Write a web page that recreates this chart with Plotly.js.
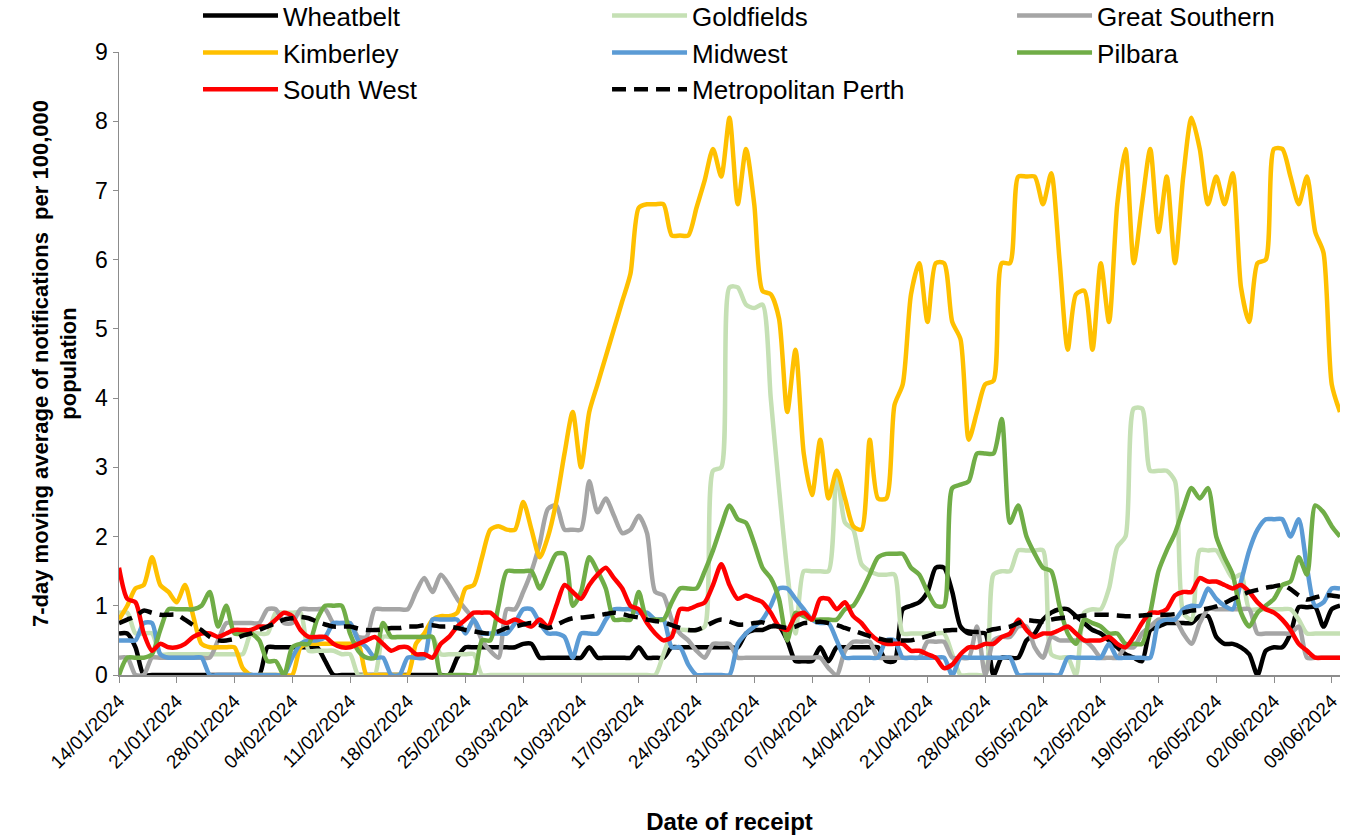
<!DOCTYPE html>
<html>
<head>
<meta charset="utf-8">
<script src="https://cdn.plot.ly/plotly-3.0.1.min.js"></script>
<style>
html,body{margin:0;padding:0;background:#fff;}
#chart{width:1354px;height:835px;}
</style>
</head>
<body>
<div id="chart"></div>
<script>
// Daily values, 14/01/2024 to 10/06/2024 (149 days)
const startDate = '2024-01-14';
const tickLabelFormat = '%d/%m/%Y';

const seriesNames = ['Wheatbelt','Goldfields','Great Southern','Kimberley','Midwest','Pilbara','South West','Metropolitan Perth'];

const wheatbelt = [
0.6,0.6,0.4,0,0,0,0,0,0,0,
0,0,0,0,0,0,0,0,0.4,0.4,
0.4,0.4,0.4,0.4,0.4,0.2,0,0,0,0,
0,0,0,0,0,0,0,0,0,0,
0,0.25,0.4,0.4,0.4,0.4,0.4,0.4,0.4,0.45,
0.45,0.25,0.25,0.25,0.25,0.25,0.25,0.4,0.25,0.25,
0.25,0.25,0.25,0.4,0.25,0.25,0.25,0.4,0.4,0.4,
0.4,0.4,0.4,0.4,0.4,0.4,0.6,0.65,0.65,0.7,
0.7,0.5,0.2,0.2,0.2,0.4,0.2,0.4,0.4,0.4,
0.4,0.4,0.4,0.2,0.2,0.95,1.0,1.05,1.2,1.55,
1.55,1.2,0.7,0.6,0.6,0.6,0,0.25,0.25,0.25,
0.5,0.6,0.8,0.9,0.95,0.95,0.85,0.75,0.65,0.6,
0.5,0.4,0.3,0.25,0.2,0.65,0.7,0.75,0.75,0.75,
0.75,0.85,0.85,0.55,0.45,0.45,0.4,0.3,0,0.35,
0.4,0.4,0.6,0.98,0.98,0.98,0.7,0.95,1.0];

const goldfields = [
0.9,0.9,0.6,0.6,0.6,0.3,0.3,0.3,0.3,0.3,
0.3,0.3,0.3,0.3,0.3,0.3,0.6,0.6,0.6,0.9,
0.9,0.9,0.9,0.35,0.35,0.35,0.35,0.3,0.3,0,
0,0,0.55,0.55,0.55,0.55,0.55,0.55,0.55,0.3,
0.3,0.3,0.3,0.3,0,0,0,0,0,0,
0,0,0,0,0,0,0,0,0,0,
0,0,0,0,0,0,0.3,0.6,0.65,0.65,
0.65,0.7,2.95,3.0,5.6,5.6,5.35,5.3,5.35,4.0,
2.7,1.5,0.6,1.5,1.5,1.5,1.5,2.95,2.2,2.1,
1.6,1.5,1.45,1.45,1.45,0.6,0.6,0.6,0.6,0.6,
0.6,0.3,0,0,0,0,1.45,1.5,1.5,1.8,
1.8,1.8,1.8,0.3,0.25,0.25,0,0.9,0.95,0.95,
1.25,1.85,2.0,3.85,3.85,2.95,2.95,2.95,2.8,0.9,
0.8,1.8,1.8,1.8,1.6,1.4,1.45,0.95,0.95,0.95,
0.95,0.95,0.95,0.8,0.6,0.6,0.6,0.6,0.6];

const greatSouthern = [
0.25,0.25,0,0,0.25,0.25,0.25,0.25,0.25,0.25,
0.25,0.25,0.5,0.75,0.75,0.75,0.75,0.75,0.95,0.95,
0.75,0.75,0.95,0.95,0.95,0.95,0.75,0.75,0.75,0.55,
0.55,0.95,0.95,0.95,0.95,0.95,1.2,1.4,1.2,1.45,
1.3,1.1,0.95,0.8,0.5,0.35,0.25,0.95,0.95,1.2,
1.5,1.9,2.4,2.45,2.1,2.1,2.1,2.8,2.35,2.55,
2.3,2.05,2.1,2.3,2.05,1.2,1.15,0.8,0.6,0.5,
0.35,0.25,0.45,0.45,0.45,0.25,0.25,0.25,0.25,0.25,
0.25,0.25,0.25,0.25,0.25,0.25,0.1,0,0.35,0.48,
0.48,0.48,0.25,0.25,0.25,0.25,0.25,0.25,0.48,0.48,
0.48,0.25,0.25,0.25,0.7,0,0.5,0.55,0.55,0.7,
0.7,0.4,0.25,0.55,0.5,0.5,0.5,0.5,0.4,0.25,
0.25,0.25,0.4,0.4,0.6,0.7,0.8,0.8,0.8,0.6,
0.45,0.75,0.95,0.95,0.95,0.95,0.95,0.95,0.6,0.6,
0.6,0.6,0.6,0.7,0.25,0.25,0.25,0.25,0.25];

const kimberley = [
0.8,1.0,1.25,1.3,1.7,1.3,1.2,1.05,1.3,0.85,
0.45,0.4,0.4,0.4,0.4,0.1,0,0,0,0,
0,0,0.4,0.45,0.45,0.45,0.45,0.45,0.45,0.45,
0,0,0,0,0,0,0.45,0.6,0.8,0.85,
0.85,0.9,1.25,1.3,1.7,2.1,2.15,2.1,2.1,2.5,
2.1,1.7,2.0,2.5,3.2,3.8,3.0,3.8,4.2,4.6,
5.0,5.4,5.8,6.75,6.8,6.8,6.8,6.35,6.35,6.35,
6.75,7.15,7.6,7.2,8.05,6.8,7.6,6.8,5.55,5.5,
5.15,3.8,4.7,3.2,2.6,3.4,2.55,2.95,2.55,2.15,
2.1,3.4,2.55,2.55,3.9,4.2,5.5,5.95,5.1,5.95,
5.95,5.1,4.85,3.4,3.8,4.2,4.25,5.95,5.95,7.2,
7.2,7.2,6.8,7.25,6.0,4.7,5.5,5.55,4.7,5.95,
5.1,6.8,7.6,5.95,6.8,7.6,6.4,7.2,5.95,7.2,
8.05,7.6,6.8,7.2,6.8,7.25,5.6,5.1,5.95,6.0,
7.6,7.6,7.2,6.8,7.2,6.4,6.1,4.2,3.8];

const midwest = [
0.5,0.5,0.5,0.75,0.75,0.3,0.25,0.25,0.25,0.25,
0.25,0,0,0,0,0,0,0,0,0,
0,0.25,0.45,0.5,0.5,0.55,0.75,0.75,0.75,0.5,
0.4,0.25,0.25,0,0,0.25,0.25,0.25,0.8,0.8,
0.8,0.8,0.6,0.8,0.6,0.6,0.6,0.6,0.75,0.95,
0.95,0.75,0.6,0.6,0.55,0.25,0.6,0.6,0.6,0.8,
0.95,0.95,0.95,0.9,0.9,0.8,0.8,0.4,0.4,0.15,
0,0,0,0,0,0.45,0.6,0.7,0.8,1.0,
1.25,1.25,1.1,0.95,0.8,0.75,0.75,0.5,0.25,0.25,
0.25,0.25,0.25,0.5,0.5,0.25,0.25,0.25,0.25,0.25,
0.25,0,0.25,0.25,0.25,0.25,0.25,0.25,0.25,0,
0,0,0,0,0,0.25,0.25,0.25,0.25,0.25,
0.45,0.25,0.25,0.25,0.25,0.25,0.75,0.8,0.8,0.95,
1.0,1.0,1.25,1.1,1.0,0.95,1.35,1.8,2.1,2.25,
2.25,2.25,2.0,2.25,1.55,1.0,1.05,1.25,1.25];

const pilbara = [
0,0.25,0.25,0.25,0.3,0.65,0.95,0.95,0.95,0.95,
1.0,1.2,0.7,1.0,0.6,0.6,0.6,0.5,0.2,0.2,
0,0.4,0.45,0.45,0.8,1.0,1.0,1.0,0.6,0.35,
0.25,0.25,0.75,0.55,0.55,0.55,0.55,0.55,0.55,0,
0,0,0,0,0.5,0.5,1.0,1.5,1.5,1.5,
1.5,1.25,1.5,1.75,1.75,1.0,1.2,1.7,1.5,1.25,
0.8,0.8,0.8,1.2,0.8,0.8,0.8,1.05,1.25,1.25,
1.25,1.5,1.8,2.15,2.45,2.25,2.2,1.9,1.55,1.4,
1.1,0.5,0.9,0.85,0.8,0.8,0.8,0.8,0.95,1.0,
1.2,1.45,1.7,1.75,1.75,1.75,1.55,1.45,1.2,1.0,
1.0,2.7,2.75,2.8,3.2,3.2,3.2,3.7,2.2,2.45,
2.0,1.75,1.55,1.5,1.0,0.6,0.45,0.8,0.75,0.7,
0.6,0.6,0.45,0.45,0.45,0.9,1.5,1.8,2.05,2.4,
2.7,2.55,2.7,2.0,1.7,1.45,0.9,0.7,0.9,1.0,
1.1,1.3,1.35,1.7,1.45,2.45,2.35,2.15,2.0];

const southWest = [
1.55,1.1,1.05,0.6,0.35,0.45,0.4,0.4,0.45,0.55,
0.6,0.6,0.55,0.6,0.65,0.65,0.65,0.7,0.7,0.8,
0.9,0.85,0.65,0.55,0.55,0.55,0.45,0.4,0.4,0.45,
0.5,0.55,0.45,0.35,0.4,0.4,0.3,0.3,0.25,0.45,
0.55,0.7,0.8,0.9,0.9,0.9,0.8,0.75,0.8,0.75,
0.7,0.8,0.7,1.0,1.3,1.2,1.1,1.3,1.45,1.55,
1.4,1.25,1.0,0.95,0.75,0.6,0.5,0.55,0.95,0.95,
1.0,1.05,1.3,1.6,1.3,1.1,1.15,1.1,1.05,0.9,
0.7,0.65,0.85,0.9,0.8,1.1,1.1,0.95,1.05,0.85,
0.75,0.6,0.5,0.45,0.45,0.45,0.35,0.35,0.3,0.25,
0.1,0.15,0.3,0.4,0.4,0.45,0.45,0.55,0.6,0.8,
0.65,0.55,0.6,0.6,0.65,0.7,0.6,0.5,0.5,0.5,
0.55,0.45,0.4,0.55,0.75,0.9,0.9,0.95,1.15,1.2,
1.2,1.4,1.35,1.35,1.3,1.25,1.3,1.2,1.05,0.95,
0.9,0.8,0.65,0.45,0.35,0.25,0.25,0.25,0.25];

const metroPerth = [
0.75,0.8,0.85,0.93,0.9,0.87,0.87,0.87,0.8,0.72,
0.65,0.55,0.5,0.5,0.52,0.57,0.6,0.65,0.7,0.75,
0.8,0.82,0.84,0.82,0.77,0.73,0.7,0.7,0.7,0.67,
0.65,0.65,0.66,0.68,0.68,0.7,0.7,0.72,0.72,0.7,
0.7,0.68,0.65,0.63,0.61,0.6,0.63,0.68,0.7,0.73,
0.75,0.72,0.68,0.72,0.78,0.82,0.83,0.84,0.86,0.88,
0.9,0.88,0.85,0.83,0.8,0.78,0.76,0.72,0.68,0.65,
0.65,0.7,0.76,0.8,0.77,0.73,0.73,0.75,0.76,0.72,
0.7,0.68,0.7,0.75,0.76,0.77,0.75,0.72,0.68,0.64,
0.6,0.56,0.53,0.5,0.5,0.5,0.5,0.53,0.56,0.6,
0.64,0.65,0.65,0.63,0.62,0.63,0.66,0.68,0.7,0.75,
0.79,0.78,0.77,0.8,0.82,0.83,0.84,0.86,0.87,0.87,
0.87,0.86,0.85,0.85,0.86,0.87,0.87,0.87,0.88,0.9,
0.93,0.94,0.96,0.99,1.04,1.1,1.15,1.2,1.23,1.26,
1.28,1.3,1.24,1.15,1.09,1.12,1.15,1.15,1.13];

// x values: consecutive days from startDate
function dayList(start, n) {
  const out = [];
  const t0 = Date.parse(start + 'T00:00:00Z');
  for (let i = 0; i < n; i++) {
    out.push(new Date(t0 + i * 86400000).toISOString().slice(0, 10));
  }
  return out;
}
const dates = dayList(startDate, kimberley.length);

const seriesValues = [wheatbelt, goldfields, greatSouthern, kimberley, midwest, pilbara, southWest, metroPerth];
const seriesColors = ['#000000','#c5e0b4','#a5a5a5','#ffc000','#5b9bd5','#70ad47','#ff0000','#000000'];
const seriesDash = ['solid','solid','solid','solid','solid','solid','solid','14px,8px'];
// legend columns (3 across, filled row by row like the original)
const legendIds = ['legend','legend2','legend3'];

const traces = seriesNames.map((name, i) => ({
  type: 'scatter',
  mode: 'lines',
  name: name,
  x: dates,
  y: seriesValues[i],
  legend: legendIds[i % 3],
  line: {color: seriesColors[i], width: 4.5, dash: seriesDash[i], shape: 'spline', smoothing: 0.7},
  hoverinfo: 'skip'
}));

const font = 'Liberation Sans, Arial, sans-serif';

function legendAt(x) {
  return {
    orientation: 'v',
    x: x, xanchor: 'left',
    y: 1.096, yanchor: 'top',
    font: {family: font, size: 26, color: '#000000'},
    itemwidth: 75,
    bgcolor: 'rgba(0,0,0,0)',
    traceorder: 'normal'
  };
}

const layout = {
  width: 1354,
  height: 835,
  margin: {l: 119, r: 14, t: 52, b: 160, autoexpand: false},
  paper_bgcolor: '#ffffff',
  plot_bgcolor: '#ffffff',
  font: {family: font, color: '#000000'},
  showlegend: true,
  legend: legendAt(0.0647),
  legend2: legendAt(0.3997),
  legend3: legendAt(0.7314),
  xaxis: {
    type: 'date',
    range: ['2024-01-14', '2024-06-10'],
    tick0: startDate,
    dtick: 7 * 86400000,
    tickformat: tickLabelFormat,
    tickangle: -45,
    tickfont: {family: font, size: 19, color: '#000000'},
    ticks: 'outside',
    ticklen: 6,
    tickcolor: '#8c8c8c',
    showline: true,
    linecolor: '#8c8c8c',
    linewidth: 1.5,
    showgrid: false,
    zeroline: false,
    automargin: false,
    title: {text: 'Date of receipt', font: {family: font, size: 24, weight: 'bold', color: '#000000'}, standoff: 44}
  },
  yaxis: {
    range: [0, 9],
    dtick: 1,
    tick0: 0,
    tickfont: {family: font, size: 23, color: '#000000'},
    ticks: 'outside',
    ticklen: 5,
    tickcolor: '#8c8c8c',
    showline: true,
    linecolor: '#8c8c8c',
    linewidth: 1.5,
    showgrid: false,
    zeroline: false,
    automargin: false,
    title: {text: '7-day moving average of notifications  per 100,000<br>population', font: {family: font, size: 22, weight: 'bold', color: '#000000'}, standoff: 12}
  }
};

Plotly.newPlot('chart', traces, layout, {displayModeBar: false, staticPlot: true});
</script>
</body>
</html>
